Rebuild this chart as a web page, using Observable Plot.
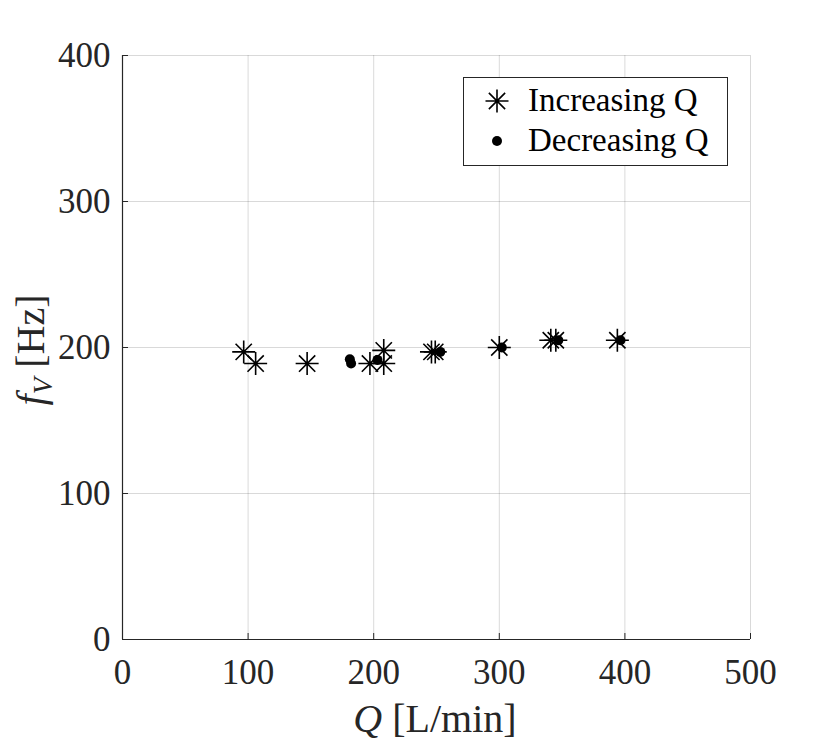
<!DOCTYPE html>
<html>
<head>
<meta charset="utf-8">
<script src="https://cdn.jsdelivr.net/npm/d3@7"></script>
<script src="https://cdn.jsdelivr.net/npm/@observablehq/plot@0.6"></script>
<style>
  html, body { margin: 0; padding: 0; background: #fff; }
  #chart { position: relative; width: 830px; height: 747px; }
  svg text { font-family: "Liberation Serif", "DejaVu Serif", serif; }
</style>
</head>
<body>
<div id="chart"></div>
<script>
// Data
const incQ = [96.5, 106, 147, 197, 208, 208, 246, 249, 300, 341, 345, 394];
const incF = [197, 189, 189, 189, 189, 198, 197, 197, 200, 205, 205, 205];
const decQ = [181, 182, 203, 253, 302, 347, 396.5];
const decF = [192, 189, 191.5, 197, 200, 205, 205];

const xTicks = [0, 100, 200, 300, 400, 500];
const yTicks = [0, 100, 200, 300, 400];
const seriesNames = ["Increasing Q", "Decreasing Q"];

const inc = incQ.map((q, i) => ({Q: q, f: incF[i]}));
const dec = decQ.map((q, i) => ({Q: q, f: decF[i]}));

// 8-armed MATLAB-style asterisk (+ and x overlaid)
const asterisk8 = {
  draw(ctx, size) {
    const r = Math.sqrt(size / Math.PI);
    const d = r * Math.SQRT1_2;
    ctx.moveTo(-r, 0); ctx.lineTo(r, 0);
    ctx.moveTo(0, -r); ctx.lineTo(0, r);
    ctx.moveTo(-d, -d); ctx.lineTo(d, d);
    ctx.moveTo(-d, d); ctx.lineTo(d, -d);
  }
};

const axisColor = "#262626";
const fontFam = "Liberation Serif, DejaVu Serif, serif";

const plot = Plot.plot({
  width: 830,
  height: 747,
  marginLeft: 122,
  marginRight: 80,
  marginTop: 55,
  marginBottom: 108,
  style: {fontFamily: fontFam, background: "#fff", overflow: "visible"},
  x: {domain: [0, 500], ticks: xTicks},
  y: {domain: [0, 400], ticks: yTicks},
  marks: [
    Plot.gridX(xTicks, {stroke: "#000", strokeOpacity: 0.15, strokeWidth: 1}),
    Plot.gridY(yTicks, {stroke: "#000", strokeOpacity: 0.15, strokeWidth: 1}),
    Plot.axisX(xTicks, {tickSize: -6, tickPadding: 26, stroke: axisColor, fill: axisColor, fontSize: 35, label: null, tickFormat: d => String(d)}),
    Plot.axisY(yTicks, {tickSize: -6, tickPadding: 18, stroke: axisColor, fill: axisColor, fontSize: 35, label: null, tickFormat: d => String(d)}),
    Plot.ruleY([0], {stroke: axisColor, strokeWidth: 1.2}),
    Plot.ruleX([0], {stroke: axisColor, strokeWidth: 1.2}),
    Plot.dot(dec, {x: "Q", y: "f", r: 5, fill: "#000", stroke: "none", symbol: "circle"}),
    Plot.dot(inc, {x: "Q", y: "f", r: 11.5, symbol: asterisk8, stroke: "#000", fill: "none", strokeWidth: 1.6})
  ]
});

document.getElementById("chart").appendChild(plot);

// Axis titles and legend
const svg = d3.select(plot);

// x label: Q [L/min]
const xl = svg.append("text")
  .attr("x", 435).attr("y", 732)
  .attr("text-anchor", "middle")
  .attr("font-size", 40)
  .attr("fill", axisColor)
  .style("font-family", fontFam);
xl.append("tspan").attr("font-style", "italic").text("Q");
xl.append("tspan").text(" [L/min]");

// y label: f_V [Hz]
const yl = svg.append("text")
  .attr("transform", "translate(44,350) rotate(-90)")
  .attr("text-anchor", "middle")
  .attr("font-size", 40)
  .attr("fill", axisColor)
  .style("font-family", fontFam);
yl.append("tspan").attr("font-style", "italic").text("f");
yl.append("tspan").attr("font-style", "italic").attr("font-size", 27).attr("dy", 8).text("V");
yl.append("tspan").attr("dy", -8).text(" [Hz]");

// Legend
const lg = svg.append("g");
lg.append("rect")
  .attr("x", 463.5).attr("y", 77.5).attr("width", 264).attr("height", 88)
  .attr("fill", "#fff").attr("stroke", axisColor).attr("stroke-width", 1);
const sym = d3.symbol().type(asterisk8).size(Math.PI * 11.5 * 11.5);
lg.append("path").attr("d", sym()).attr("transform", "translate(497,101)")
  .attr("stroke", "#000").attr("fill", "none").attr("stroke-width", 1.6);
lg.append("circle").attr("cx", 497).attr("cy", 141).attr("r", 5).attr("fill", "#000");
lg.selectAll("text.leg").data(seriesNames).join("text")
  .attr("class", "leg")
  .attr("x", 528).attr("y", (d, i) => 111 + i * 40)
  .attr("text-anchor", "start")
  .attr("font-size", 33)
  .attr("fill", "#000")
  .style("font-family", fontFam)
  .text(d => d);
</script>
</body>
</html>
